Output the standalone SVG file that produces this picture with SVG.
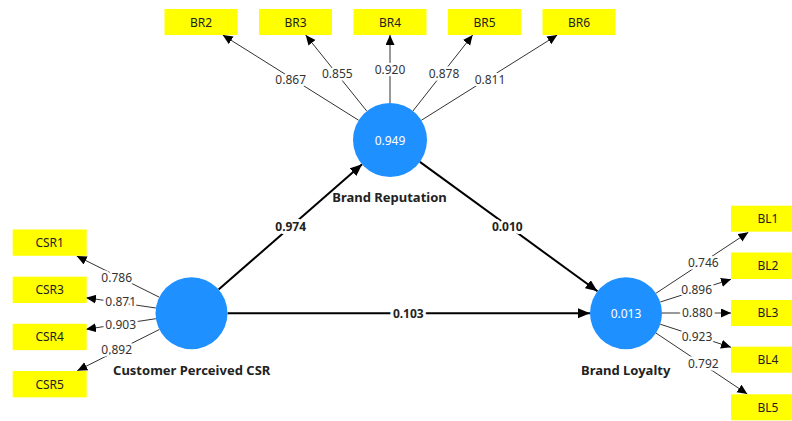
<svg xmlns="http://www.w3.org/2000/svg" width="792" height="421" viewBox="0 0 792 421">
  <style>
    text { font-family: "Noto Sans", "Liberation Sans", sans-serif; }
    .box { fill: #ffff00; }
    .boxtxt { font-size: 12px; fill: #222; text-anchor: middle; }
    .lv { fill: #1e90ff; }
    .lvtxt { font-size: 12px; fill: #fff; text-anchor: middle; }
    .name { font-size: 13px; font-weight: bold; fill: #222; text-anchor: middle; }
    .ind { stroke: #333; stroke-width: 1; fill: none; marker-end: url(#ah-s); }
    .path { stroke: #000; stroke-width: 2; fill: none; marker-end: url(#ah-l); }
    .load { font-size: 12px; fill: #333; text-anchor: middle; paint-order: stroke; stroke: #fff; stroke-width: 5px; stroke-linejoin: round; }
    .coef { font-size: 12px; font-weight: bold; fill: #222; text-anchor: middle; paint-order: stroke; stroke: #fff; stroke-width: 6px; stroke-linejoin: round; }
  </style>
  <defs>
    <marker id="ah-s" markerUnits="userSpaceOnUse" markerWidth="11" markerHeight="10" refX="10" refY="4.5" orient="auto">
      <path d="M0,0 L10,4.5 L0,9 z" fill="#000"/>
    </marker>
    <marker id="ah-l" markerUnits="userSpaceOnUse" markerWidth="13" markerHeight="11" refX="12" refY="5" orient="auto">
      <path d="M0,0 L12,5 L0,10 z" fill="#000"/>
    </marker>
  </defs>
  <rect width="792" height="421" fill="#fff"/>

  <!-- connectors: indicator loadings and structural paths -->
  <g id="connectors">
    <line class="ind" x1="358.7" y1="120.3" x2="222.7" y2="35"/>
    <line class="ind" x1="366.8" y1="111.1" x2="305.7" y2="35"/>
    <line class="ind" x1="390" y1="103" x2="390" y2="35"/>
    <line class="ind" x1="412.9" y1="111" x2="472.7" y2="35"/>
    <line class="ind" x1="421.3" y1="120.3" x2="557.3" y2="35"/>

    <line class="ind" x1="159.3" y1="297.2" x2="76.7" y2="256"/>
    <line class="ind" x1="155.9" y1="308" x2="86" y2="297.7"/>
    <line class="ind" x1="155.9" y1="318.7" x2="86" y2="329.3"/>
    <line class="ind" x1="159.3" y1="329.5" x2="77.3" y2="370.7"/>

    <line class="ind" x1="656.1" y1="293.2" x2="748.3" y2="232.3"/>
    <line class="ind" x1="660.3" y1="302" x2="731" y2="279.3"/>
    <line class="ind" x1="662" y1="313" x2="731" y2="313"/>
    <line class="ind" x1="660.2" y1="324.2" x2="731" y2="347.3"/>
    <line class="ind" x1="655.9" y1="333" x2="747.3" y2="394"/>

    <line class="path" x1="218.6" y1="289.6" x2="362.1" y2="164.3"/>
    <line class="path" x1="419.9" y1="161.9" x2="597.5" y2="291.3"/>
    <line class="path" x1="227.5" y1="313.2" x2="590" y2="313.2"/>

    <text class="load" x="290.7" y="83.5">0.867</text>
    <text class="load" x="337.3" y="78">0.855</text>
    <text class="load" x="390" y="74">0.920</text>
    <text class="load" x="444" y="78">0.878</text>
    <text class="load" x="490" y="83.5">0.811</text>

    <text class="load" x="116.7" y="281.5">0.786</text>
    <text class="load" x="120.7" y="305.8">0.871</text>
    <text class="load" x="120.7" y="329">0.903</text>
    <text class="load" x="116.7" y="354">0.892</text>

    <text class="load" x="703.3" y="266.8">0.746</text>
    <text class="load" x="696.7" y="293.8">0.896</text>
    <text class="load" x="697.3" y="317.2">0.880</text>
    <text class="load" x="697" y="340.8">0.923</text>
    <text class="load" x="703.3" y="368.4">0.792</text>

    <text class="coef" x="290.7" y="231">0.974</text>
    <text class="coef" x="507.3" y="231">0.010</text>
    <text class="coef" x="408.3" y="317.5">0.103</text>
  </g>

  <!-- reflective indicators -->
  <g id="BR2"><rect class="box" x="164.5" y="9" width="73" height="26"/><text class="boxtxt" x="201" y="26.5">BR2</text></g>
  <g id="BR3"><rect class="box" x="259" y="9" width="73" height="26"/><text class="boxtxt" x="295.5" y="26.5">BR3</text></g>
  <g id="BR4"><rect class="box" x="353.5" y="9" width="73" height="26"/><text class="boxtxt" x="390" y="26.5">BR4</text></g>
  <g id="BR5"><rect class="box" x="448" y="9" width="73" height="26"/><text class="boxtxt" x="484.5" y="26.5">BR5</text></g>
  <g id="BR6"><rect class="box" x="542.5" y="9" width="73" height="26"/><text class="boxtxt" x="579" y="26.5">BR6</text></g>

  <g id="CSR1"><rect class="box" x="12.7" y="229.5" width="74" height="26.3"/><text class="boxtxt" x="49.7" y="247">CSR1</text></g>
  <g id="CSR3"><rect class="box" x="12.7" y="276.7" width="74" height="26.3"/><text class="boxtxt" x="49.7" y="294.2">CSR3</text></g>
  <g id="CSR4"><rect class="box" x="12.7" y="323.8" width="74" height="26.3"/><text class="boxtxt" x="49.7" y="341.3">CSR4</text></g>
  <g id="CSR5"><rect class="box" x="12.7" y="371" width="74" height="26.3"/><text class="boxtxt" x="49.7" y="388.5">CSR5</text></g>

  <g id="BL1"><rect class="box" x="731" y="205.7" width="74" height="26"/><text class="boxtxt" x="768" y="223">BL1</text></g>
  <g id="BL2"><rect class="box" x="731" y="252.5" width="74" height="26.5"/><text class="boxtxt" x="768" y="270">BL2</text></g>
  <g id="BL3"><rect class="box" x="731" y="300" width="74" height="26"/><text class="boxtxt" x="768" y="317.3">BL3</text></g>
  <g id="BL4"><rect class="box" x="731" y="346.7" width="74" height="26"/><text class="boxtxt" x="768" y="364">BL4</text></g>
  <g id="BL5"><rect class="box" x="731" y="394.3" width="74" height="26"/><text class="boxtxt" x="768" y="411.6">BL5</text></g>

  <!-- latent constructs -->
  <g id="BrandReputation">
    <circle class="lv" cx="390" cy="140" r="37"/>
    <text class="lvtxt" x="390" y="144.5">0.949</text>
    <text class="name" x="389.5" y="202">Brand Reputation</text>
  </g>
  <g id="CustomerPerceivedCSR">
    <circle class="lv" cx="191.5" cy="313.3" r="36"/>
    <text class="name" x="191.7" y="375">Customer Perceived CSR</text>
  </g>
  <g id="BrandLoyalty">
    <circle class="lv" cx="626" cy="313.2" r="36"/>
    <text class="lvtxt" x="626" y="317.5">0.013</text>
    <text class="name" x="625.7" y="375">Brand Loyalty</text>
  </g>
</svg>
